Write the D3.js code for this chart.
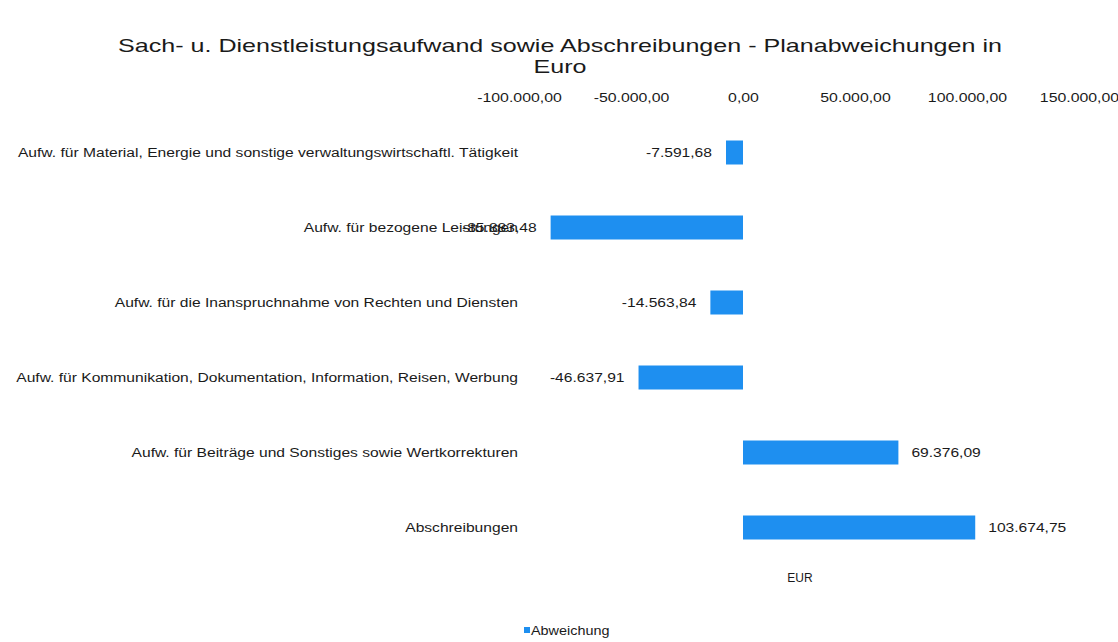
<!DOCTYPE html>
<html>
<head>
<meta charset="utf-8">
<script src="https://cdn.jsdelivr.net/npm/d3@7"></script>
<style>
  body { margin: 0; background: #fff; }
  text { font-family: "Liberation Sans", Arial, sans-serif; fill: #1a1a1a; }
</style>
</head>
<body>
<svg id="chart" width="1118" height="642"></svg>
<script>
// data
var categories = [
  "Aufw. für Material, Energie und sonstige verwaltungswirtschaftl. Tätigkeit",
  "Aufw. für bezogene Leistungen",
  "Aufw. für die Inanspruchnahme von Rechten und Diensten",
  "Aufw. für Kommunikation, Dokumentation, Information, Reisen, Werbung",
  "Aufw. für Beiträge und Sonstiges sowie Wertkorrekturen",
  "Abschreibungen"
];
var abweichung = [-7591.68, -85883.48, -14563.84, -46637.91, 69376.09, 103674.75];
var tickValues = [-100000, -50000, 0, 50000, 100000, 150000];

var svg, x, y, fmt, rows, stretch;
svg = d3.select("#chart");

// german number format
fmt = d3.formatLocale({decimal: ",", thousands: ".", grouping: [3], currency: ["", " €"], minus: "-"}).format(",.2f");

// the reference text is wide, stretch glyphs horizontally
stretch = function(sel, k) {
  sel.each(function() {
    var len = this.getComputedTextLength();
    d3.select(this).attr("textLength", len * k).attr("lengthAdjust", "spacingAndGlyphs");
  });
};

x = d3.scaleLinear().domain([-100000, 150000]).range([519, 1079]);
y = d3.scaleBand().domain(categories).range([115, 565]).paddingInner(0.68).paddingOuter(0.34);

// title
svg.append("text")
  .attr("class", "title")
  .attr("x", 560).attr("y", 52)
  .attr("text-anchor", "middle")
  .style("font-size", "19px")
  .text("Sach- u. Dienstleistungsaufwand sowie Abschreibungen - Planabweichungen in");
svg.append("text")
  .attr("class", "title")
  .attr("x", 560).attr("y", 73)
  .attr("text-anchor", "middle")
  .style("font-size", "19px")
  .text("Euro");
stretch(svg.selectAll(".title"), 1.32);

// top axis
var axis = d3.axisTop(x).tickValues(tickValues).tickFormat(fmt).tickSize(0).tickPadding(0);
var gAxis = svg.append("g").attr("transform", "translate(0,102)").call(axis);
gAxis.select(".domain").remove();
gAxis.selectAll("text").style("font-size", "12px").attr("fill", "#1a1a1a").attr("font-family", null);
stretch(gAxis.selectAll("text"), 1.32);

// category labels
var catLabels = svg.append("g").selectAll("text")
  .data(categories)
  .enter()
  .append("text")
  .attr("x", 518)
  .attr("y", function(d) { return y(d) + y.bandwidth() / 2; })
  .attr("dy", "0.35em")
  .attr("text-anchor", "end")
  .style("font-size", "12px")
  .text(function(d) { return d; });
stretch(catLabels, 1.3);

// bars
rows = categories.map(function(c, i) { return {cat: c, val: abweichung[i]}; });

svg.append("g").selectAll("rect")
  .data(rows)
  .enter()
  .append("rect")
  .attr("x", function(d) { return x(Math.min(0, d.val)); })
  .attr("y", function(d) { return y(d.cat); })
  .attr("width", function(d) { return Math.abs(x(d.val) - x(0)); })
  .attr("height", y.bandwidth())
  .attr("fill", "#1e8ff0");

// value labels
var valLabels = svg.append("g").selectAll("text")
  .data(rows)
  .enter()
  .append("text")
  .attr("x", function(d) { return d.val < 0 ? x(d.val) - 14 : x(d.val) + 13; })
  .attr("y", function(d) { return y(d.cat) + y.bandwidth() / 2; })
  .attr("dy", "0.35em")
  .attr("text-anchor", function(d) { return d.val < 0 ? "end" : "start"; })
  .style("font-size", "12px")
  .text(function(d) { return fmt(d.val); });
stretch(valLabels, 1.3);

// axis title
svg.append("text")
  .attr("x", 800).attr("y", 582)
  .attr("text-anchor", "middle")
  .style("font-size", "12px")
  .text("EUR");

// legend
svg.append("rect")
  .attr("x", 524).attr("y", 627)
  .attr("width", 6).attr("height", 6)
  .attr("fill", "#1e8ff0");
var leg = svg.append("text")
  .attr("x", 531).attr("y", 635)
  .style("font-size", "12px")
  .text("Abweichung");
stretch(leg, 1.2);
</script>
</body>
</html>
